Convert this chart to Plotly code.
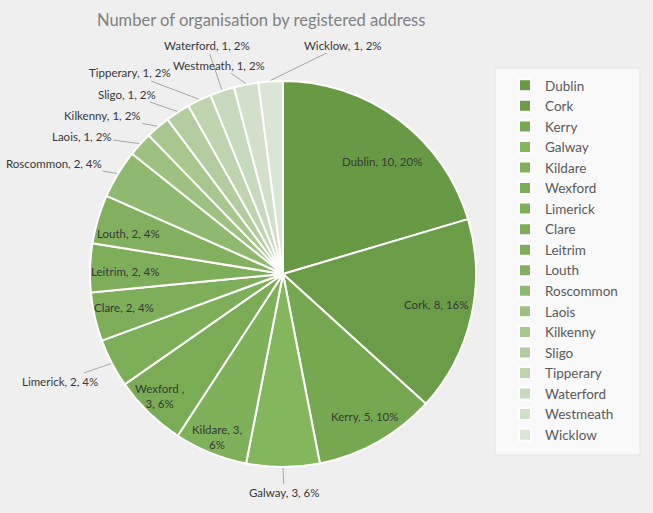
import math
import plotly.graph_objects as go

counties = ["Dublin", "Cork", "Kerry", "Galway", "Kildare", "Wexford", "Limerick",
            "Clare", "Leitrim", "Louth", "Roscommon", "Laois", "Kilkenny", "Sligo",
            "Tipperary", "Waterford", "Westmeath", "Wicklow"]
counts = [10, 8, 5, 3, 3, 3, 2, 2, 2, 2, 2, 1, 1, 1, 1, 1, 1, 1]

# styling / layout (not data)
colors = ["#689945", "#6b9c47", "#76a851", "#84b65e", "#7eb159", "#79ac54", "#7caf57",
          "#7eae59", "#7fae5a", "#83b05f", "#90b970", "#9dc180", "#a8c78f", "#b3cda0",
          "#bed4ae", "#c8dabd", "#d2e0ca", "#dbe5d5"]
# label centre (pixels) and whether it has a leader line
label_px = {
    "Dublin": (382, 161, False), "Cork": (436, 304, False), "Kerry": (364, 416, False),
    "Galway": (284, 492, True), "Kildare": (217, 437, False), "Wexford": (159, 396, False),
    "Limerick": (60, 381, True), "Clare": (124, 307, False), "Leitrim": (125, 271, False),
    "Louth": (128, 233, False), "Roscommon": (54, 163, True), "Laois": (82, 136, True),
    "Kilkenny": (102, 116, True), "Sligo": (127, 94, True), "Tipperary": (130, 73, True),
    "Waterford": (207, 46, True), "Westmeath": (219, 65, True), "Wicklow": (343, 45, True),
}
line_breaks = {"Kildare": "{n}, {v},<br>{p}%", "Wexford": "{n} ,<br>{v}, {p}%"}

W, H = 653, 513
cx, cy, r = 283, 274, 193
legend_box = (495, 68, 640, 455)

fig = go.Figure(go.Pie(
    labels=counties,
    values=counts,
    sort=False,
    direction="clockwise",
    rotation=0,
    marker=dict(colors=colors, line=dict(color="white", width=2)),
    textinfo="none",
    domain=dict(x=[(cx - r) / W, (cx + r) / W], y=[(H - cy - r) / H, (H - cy + r) / H]),
    hoverinfo="label+value+percent",
))

total = sum(counts)
annotations = []
cum = 0
for name, v in zip(counties, counts):
    mid = (cum + v / 2) / total * 2 * math.pi
    cum += v
    pct = round(v / total * 100)
    tmpl = line_breaks.get(name, "{n}, {v}, {p}%")
    text = tmpl.format(n=name, v=v, p=pct)
    lx, ly, leader = label_px[name]
    font = dict(family="Lato", size=11.5, color="#383838")
    if leader:
        hx = cx + (r + 1) * math.sin(mid)
        hy = cy - (r + 1) * math.cos(mid)
        annotations.append(dict(
            x=hx / W, y=1 - hy / H, xref="paper", yref="paper",
            text=text, showarrow=True, ax=lx - hx, ay=ly - hy,
            arrowhead=0, arrowwidth=1, arrowcolor="#a6a6a6", standoff=0,
            font=font))
    else:
        annotations.append(dict(
            x=lx / W, y=1 - ly / H, xref="paper", yref="paper",
            text=text, showarrow=False, xanchor="center", yanchor="middle",
            font=font))

bx0, by0, bx1, by1 = legend_box
fig.update_layout(
    width=W, height=H,
    margin=dict(l=0, r=0, t=0, b=0),
    paper_bgcolor="#efefef",
    plot_bgcolor="#efefef",
    title=dict(text="Number of organisation by registered address",
               font=dict(family="Lato", size=16.5, color="#808080"),
               x=0.4, xanchor="center", y=0.96, yanchor="middle"),
    legend=dict(x=(bx0 + 10) / W, xanchor="left", y=1 - (by0 + 2) / H, yanchor="top",
                bgcolor="rgba(0,0,0,0)", borderwidth=0,
                font=dict(family="Lato", size=13.5, color="#595959"),
                itemwidth=30),
    shapes=[dict(type="rect", xref="paper", yref="paper",
                 x0=bx0 / W, x1=bx1 / W, y0=1 - by1 / H, y1=1 - by0 / H,
                 fillcolor="#f9f9f9", line=dict(color="#e4e4e4", width=1),
                 layer="below")],
    showlegend=True,
    annotations=annotations,
)

fig.write_html("out.html")
